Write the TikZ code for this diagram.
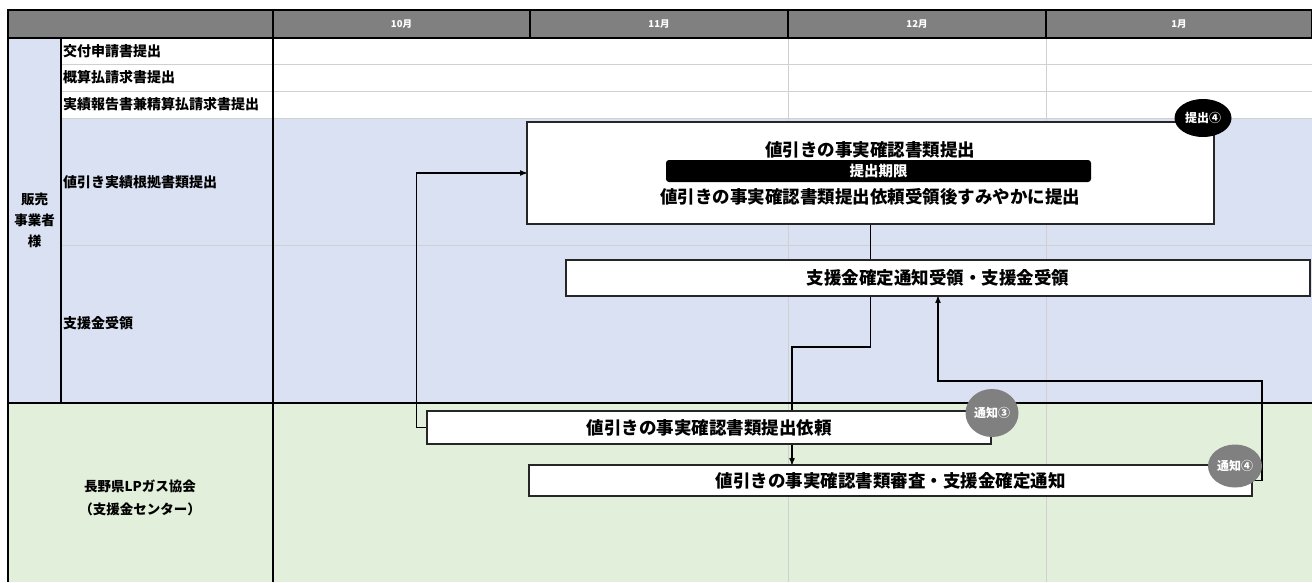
\documentclass[tikz,border=0pt]{standalone}
\usepackage{fontspec}
\setmainfont{Noto Sans CJK JP}
\usepackage{tikz}
\usetikzlibrary{positioning, arrows, shapes.geometric, backgrounds}
\definecolor{hdrgray}{HTML}{808080}
\definecolor{sellerblue}{HTML}{D9E1F2}
\definecolor{centergreen}{HTML}{E2EFDA}
\definecolor{gridgray}{HTML}{D0D0D0}
\definecolor{boxline}{HTML}{262626}
\tikzset{
x=1pt, y=-1pt, % one unit is one pixel of the sheet, y runs downwards
>=stealth', % small bold arrow heads
flow/.style={draw=black, line width=1.2pt}, % the connectors between the tasks
frame/.style={draw=black, line width=1.2pt}, % the black rules of the table
gridline/.style={draw=gridgray, line width=0.8pt}, % the light rules of the table
task/.style={draw=boxline, line width=1.6pt, fill=white, inner sep=0pt,
  font=\fontsize{17.5}{20}\selectfont\bfseries}, % a task bar in the chart
rowlabel/.style={anchor=west, inner sep=0pt, font=\fontsize{14}{16}\selectfont\bfseries}, % the row titles
month/.style={text=white, inner sep=0pt, font=\fontsize{9.5}{10}\selectfont\bfseries}, % the month heads
badge/.style={ellipse, text=white, inner sep=0pt, font=\fontsize{12}{13}\selectfont\bfseries}, % the round marks
}

\begin{document}
\begin{tikzpicture}
\useasboundingbox (0,0) rectangle (1312,582);
\node[task, minimum width=687, minimum height=102] (docsub) at (870.5,173) {};
\node[task, draw=none, fill=none] (subtitle) at (870,150) {値引きの事実確認書類提出};
\node[month, fill=black, rounded corners=3, minimum width=425, minimum height=22,
  font=\fontsize{14.5}{16}\selectfont\bfseries] (deadline) at (878.5,171) {提出期限};
\node[task, draw=none, fill=none] (subnote) at (870,197) {値引きの事実確認書類提出依頼受領後すみやかに提出};
\node[task, minimum width=744, minimum height=36] (recv) at (938,278) {支援金確定通知受領・支援金受領};
\node[task, minimum width=564, minimum height=33] (docreq) at (709,427.5) {値引きの事実確認書類提出依頼};
\node[task, minimum width=723, minimum height=31] (review) at (890.5,480.5) {値引きの事実確認書類審査・支援金確定通知};

\node[month] (m10) at (401.5,24) {10月};
\node[month] (m11) at (659,24) {11月};
\node[month] (m12) at (917,24) {12月};
\node[month] (m1) at (1179,24) {1月};

\node[rowlabel] (r1) at (63,51) {交付申請書提出};
\node[rowlabel] (r2) at (63,77.5) {概算払請求書提出};
\node[rowlabel] (r3) at (63,104.5) {実績報告書兼精算払請求書提出};
\node[rowlabel] (r4) at (63,182) {値引き実績根拠書類提出};
\node[rowlabel] (r5) at (63,323) {支援金受領};
\node[rowlabel, anchor=center, align=center, font=\fontsize{13.5}{21}\selectfont\bfseries] (seller) at (34.5,220) {販売\\事業者\\様};
\node[rowlabel, anchor=center, align=center, font=\fontsize{13.5}{23}\selectfont\bfseries] (center) at (140,497.5) {長野県LPガス協会\\（支援金センター）};

\begin{scope}[on background layer]
\fill[hdrgray] (8,10) rectangle (1312,38);
\fill[sellerblue] (8,38) rectangle (61,403);
\fill[sellerblue] (61,118) rectangle (1312,403);
\fill[centergreen] (8,403) rectangle (1312,582);
\draw[gridline] (61,64) -- (1312,64) (61,91) -- (1312,91) (61,118) -- (1312,118) (61,245) -- (1312,245);
\draw[gridline] (788,38) -- (788,582) (1046,38) -- (1046,582);
\draw[frame] (8,10) rectangle (1312,38);
\draw[frame] (530,10) -- (530,38) (788,10) -- (788,38) (1046,10) -- (1046,38);
\draw[frame] (8,10) -- (8,582) (273,10) -- (273,582) (61,38) -- (61,403) (8,403) -- (1312,403);
\coordinate (turnA) at (792,347);
\coordinate (turnB) at (1262,381);
\draw[flow, ->] (docreq.west) -- ++(-10,0) |- (docsub.west);
\draw[flow] (docsub.south) -- (docsub.south |- recv.north);
\draw[flow, ->] (docsub.south |- recv.south) |- (turnA) -- (turnA |- review.north);
\draw[flow, ->] (review.east) -| (turnB) -| (recv.south);
\end{scope}

\node[badge, fill=black, minimum width=57, minimum height=38] (sub4) at (1203,118) {提出④};
\node[badge, fill=hdrgray, minimum width=53, minimum height=48] (note3) at (992,413) {通知③};
\node[badge, fill=hdrgray, minimum width=54, minimum height=43] (note4) at (1235,466) {通知④};
\end{tikzpicture}
\end{document}
